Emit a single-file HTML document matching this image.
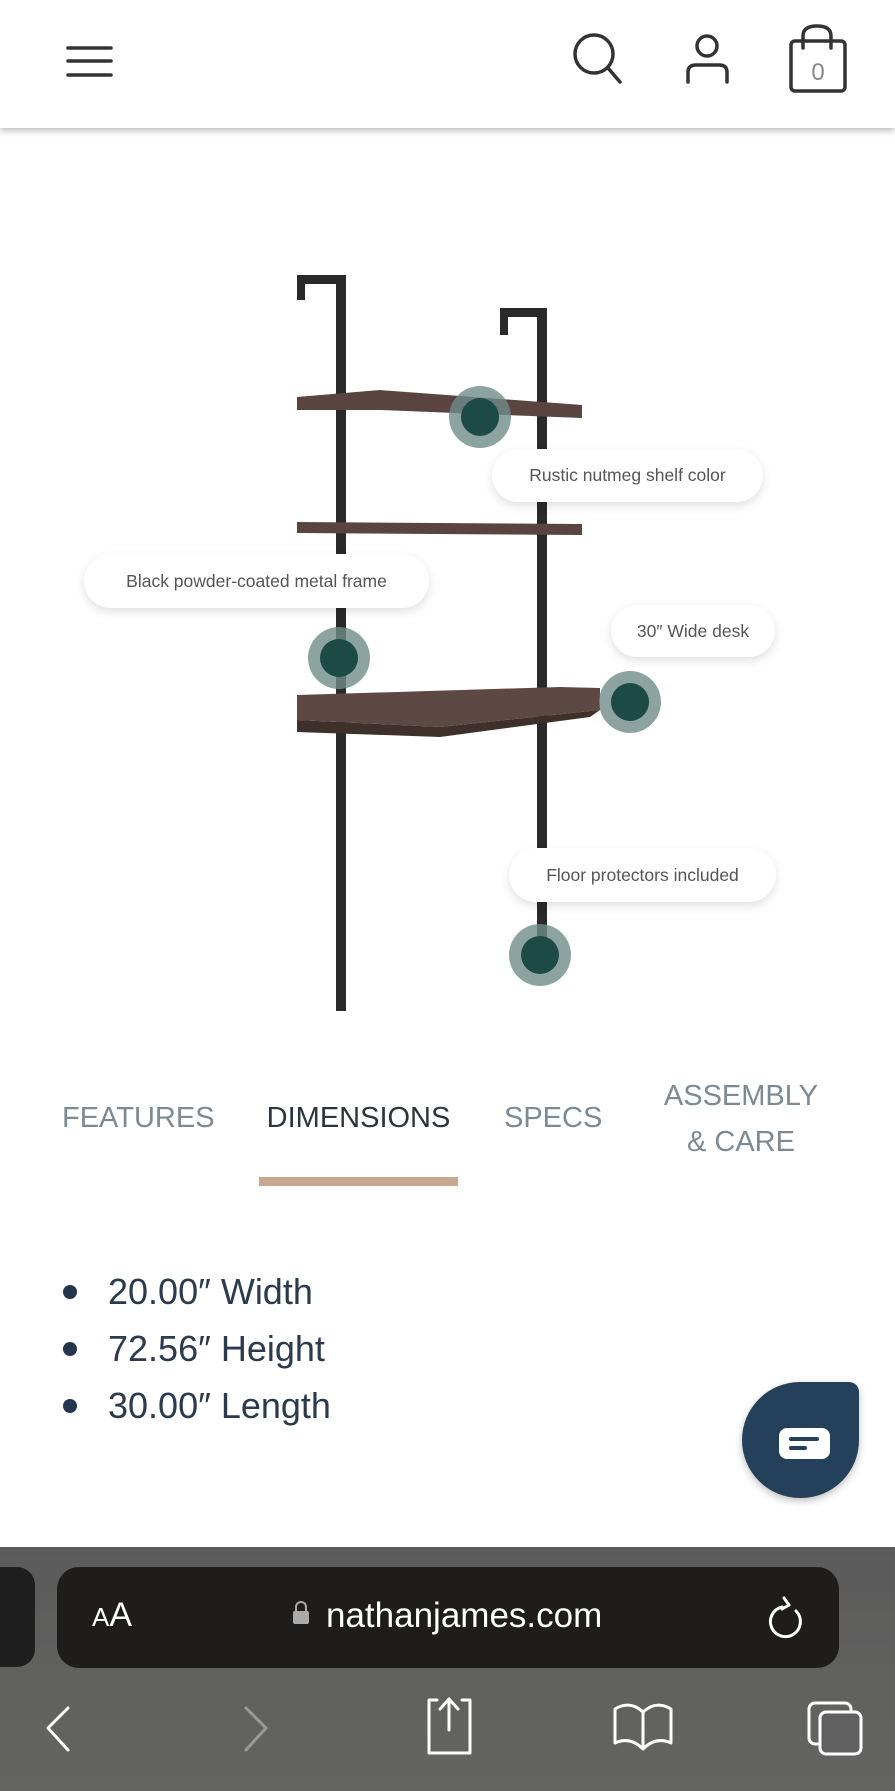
<!DOCTYPE html>
<html><head><meta charset="utf-8">
<style>
html,body{margin:0;padding:0;}
body{width:895px;height:1791px;position:relative;overflow:hidden;background:#fff;font-family:"Liberation Sans",sans-serif;}
.hdr{position:absolute;left:0;top:0;width:895px;height:128px;background:#fff;box-shadow:0 3px 6px rgba(0,0,0,0.25);z-index:2;}
.pill{position:absolute;background:#fff;border-radius:30px;box-shadow:0 4px 10px rgba(0,0,0,0.12);color:#555;font-size:17.5px;display:flex;align-items:center;justify-content:center;white-space:nowrap;}
.tab{position:absolute;font-size:30px;color:#7d8a94;white-space:nowrap;text-align:center;line-height:46px;}
.li{position:absolute;left:108px;font-size:36px;color:#2b3a4c;white-space:nowrap;}
.dot{position:absolute;left:63px;width:14px;height:14px;border-radius:50%;background:#23364c;}
</style></head><body>
<div class="hdr">
<svg width="895" height="128" style="position:absolute;left:0;top:0">
 <g stroke="#333" stroke-width="3.5" stroke-linecap="round" fill="none">
  <line x1="68" y1="48" x2="111" y2="48"/><line x1="68" y1="61" x2="111" y2="61"/><line x1="68" y1="75" x2="111" y2="75"/>
  <circle cx="594" cy="54" r="19"/><line x1="608" y1="68" x2="620" y2="82"/>
  <circle cx="707" cy="46" r="10"/><path d="M688 82 V72 Q688 65 696 65 H719 Q727 65 727 72 V82"/>
  <rect x="791" y="41" width="54" height="50" rx="4"/><path d="M803 48 V36 Q803 26 817 26 Q831 26 831 36 V48"/>
 </g>
 <text x="818" y="80" font-size="24" fill="#888" text-anchor="middle" font-family="Liberation Sans">0</text>
</svg>
</div>

<svg width="895" height="1040" style="position:absolute;left:0;top:0">
 <path d="M297 275 H346 V1011 H336 V284 H305 V300 H297 Z" fill="#2a2a2a"/>
 <path d="M500 308 H547 V955 H537 V317 H508 V335 H500 Z" fill="#2a2a2a"/>
 <polygon points="297,397 380,390 582,405 582,418 380,410 297,410" fill="#5a4440"/>
 <polygon points="297,522 582,524 582,535 297,533" fill="#5a4440"/>
 <polygon points="297,695 560,687 600,688 600,710 440,727 297,720" fill="#5e4843"/>
 <polygon points="297,720 440,727 600,710 590,717 440,737 297,732" fill="#3f302c"/>
 <g>
  <circle cx="480" cy="417" r="31" fill="#6f8c88" fill-opacity="0.8"/><circle cx="480" cy="417" r="19" fill="#1c4a44"/>
  <circle cx="339" cy="658" r="31" fill="#6f8c88" fill-opacity="0.8"/><circle cx="339" cy="658" r="19" fill="#1c4a44"/>
  <circle cx="630" cy="702" r="31" fill="#6f8c88" fill-opacity="0.8"/><circle cx="630" cy="702" r="19" fill="#1c4a44"/>
  <circle cx="540" cy="955" r="31" fill="#6f8c88" fill-opacity="0.8"/><circle cx="540" cy="955" r="19" fill="#1c4a44"/>
 </g>
</svg>

<div class="pill" style="left:492px;top:449px;width:271px;height:53px;">Rustic nutmeg shelf color</div>
<div class="pill" style="left:84px;top:554px;width:345px;height:54px;">Black powder-coated metal frame</div>
<div class="pill" style="left:611px;top:605px;width:164px;height:52px;">30″ Wide desk</div>
<div class="pill" style="left:509px;top:848px;width:267px;height:54px;">Floor protectors included</div>

<div class="tab" style="left:62px;top:1095px;width:149px;font-size:29px;">FEATURES</div>
<div class="tab" style="left:256px;top:1095px;width:205px;color:#2b3540;font-size:29px;">DIMENSIONS</div>
<div class="tab" style="left:504px;top:1095px;width:98px;font-size:29px;">SPECS</div>
<div class="tab" style="left:660px;top:1073px;width:162px;font-size:29px;">ASSEMBLY</div>
<div class="tab" style="left:660px;top:1119px;width:162px;font-size:29px;">&amp; CARE</div>
<div style="position:absolute;left:259px;top:1177px;width:199px;height:9px;background:#c6a890;"></div>

<div class="dot" style="top:1285px"></div><div class="li" style="top:1271px">20.00″ Width</div>
<div class="dot" style="top:1342px"></div><div class="li" style="top:1328px">72.56″ Height</div>
<div class="dot" style="top:1399px"></div><div class="li" style="top:1385px">30.00″ Length</div>

<div style="position:absolute;left:742px;top:1382px;width:117px;height:116px;background:#25405a;border-radius:58px 10px 58px 58px;box-shadow:0 3px 8px rgba(0,0,0,0.25);"></div>
<div style="position:absolute;left:779px;top:1428px;width:51px;height:31px;background:#fff;border-radius:8px;"></div>
<div style="position:absolute;left:789px;top:1437px;width:30px;height:4px;background:#25405a;border-radius:2px;"></div>
<div style="position:absolute;left:789px;top:1446px;width:18px;height:4px;background:#25405a;border-radius:2px;"></div>

<div style="position:absolute;left:0;top:1547px;width:895px;height:244px;background:linear-gradient(180deg,#5b5b5b,#646462);"></div>
<div style="position:absolute;left:-20px;top:1567px;width:55px;height:100px;background:#1f1f1f;border-radius:18px;"></div>
<div style="position:absolute;left:57px;top:1567px;width:782px;height:101px;background:#1e1d1c;border-radius:22px;"></div>
<div style="position:absolute;left:92px;top:1596px;color:#fff;font-size:34px;white-space:nowrap;"><span style="font-size:26px">A</span>A</div>
<div style="position:absolute;left:293px;top:1611px;width:16px;height:13px;background:#aaa;border-radius:2px;"></div>
<div style="position:absolute;left:295px;top:1601px;width:8px;height:12px;border:2px solid #aaa;border-bottom:none;border-radius:6px 6px 0 0;"></div>
<div style="position:absolute;left:326px;top:1596px;color:#fff;font-size:35px;white-space:nowrap;">nathanjames.com</div>
<svg width="895" height="1791" style="position:absolute;left:0;top:0">
 <g fill="none" stroke="#fff" stroke-width="3" stroke-linecap="round" stroke-linejoin="round">
  <path d="M782 1607 A15 15 0 1 0 796 1611"/><path d="M784 1598 L789 1605 L782 1609"/>
  <path d="M68 1708 L48 1728 L68 1750"/>
  <path d="M246 1708 L266 1728 L246 1750" stroke="#999"/>
  <path d="M437 1700 H429 V1753 H470 V1700 H462"/><path d="M449 1730 V1701"/><path d="M440 1709 L449 1699 L458 1709"/>
  <path d="M615 1743 V1709 Q630 1700 643 1712 Q656 1700 671 1709 V1743 Q656 1736 643 1749 Q630 1736 615 1743 Z"/><line x1="643" y1="1712" x2="643" y2="1748"/>
  <rect x="809" y="1703" width="42" height="41" rx="6"/><rect x="820" y="1712" width="41" height="42" rx="6" fill="#606060"/>
 </g>
</svg>
</body></html>
